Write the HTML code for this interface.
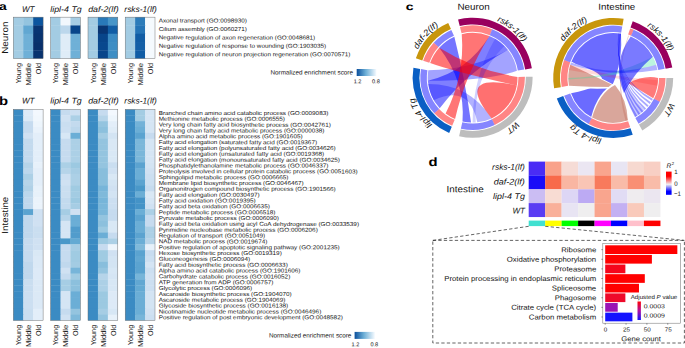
<!DOCTYPE html>
<html><head><meta charset="utf-8"><title>Figure</title>
<style>
html,body{margin:0;padding:0;background:#fff;}
body{width:685px;height:348px;overflow:hidden;}
svg{display:block;font-family:"Liberation Sans",sans-serif;text-rendering:geometricPrecision;}
</style></head><body>
<svg width="685" height="348" viewBox="0 0 685 348">
<defs>
<linearGradient id="gb" x1="0" x2="1" y1="0" y2="0"><stop offset="0" stop-color="#0b4f9c"/><stop offset="0.45" stop-color="#6baed6"/><stop offset="1" stop-color="#f7fbff"/></linearGradient>
<linearGradient id="gr" x1="0" x2="0" y1="0" y2="1"><stop offset="0" stop-color="#ff0000"/><stop offset="0.2" stop-color="#ff0000"/><stop offset="0.55" stop-color="#f2eef2"/><stop offset="0.86" stop-color="#0000ff"/><stop offset="1" stop-color="#0000ff"/></linearGradient>
<linearGradient id="gp" x1="0" x2="0" y1="0" y2="1"><stop offset="0" stop-color="#ff0000"/><stop offset="0.5" stop-color="#b010a0"/><stop offset="1" stop-color="#1414ff"/></linearGradient>
</defs>
<rect width="685" height="348" fill="#fff"/>
<rect x="13.30" y="17.15" width="10.28" height="8.64" fill="#a3cce3"/>
<rect x="23.23" y="17.15" width="10.28" height="8.64" fill="#94c4df"/>
<rect x="33.17" y="17.15" width="9.93" height="8.64" fill="#0b559f"/>
<rect x="13.30" y="25.44" width="10.28" height="8.64" fill="#a3cce3"/>
<rect x="23.23" y="25.44" width="10.28" height="8.64" fill="#61a7d2"/>
<rect x="33.17" y="25.44" width="9.93" height="8.64" fill="#083573"/>
<rect x="13.30" y="33.73" width="10.28" height="8.64" fill="#a3cce3"/>
<rect x="23.23" y="33.73" width="10.28" height="8.64" fill="#6fb0d7"/>
<rect x="33.17" y="33.73" width="9.93" height="8.64" fill="#08336f"/>
<rect x="13.30" y="42.02" width="10.28" height="8.64" fill="#a3cce3"/>
<rect x="23.23" y="42.02" width="10.28" height="8.64" fill="#6fb0d7"/>
<rect x="33.17" y="42.02" width="9.93" height="8.64" fill="#08306b"/>
<rect x="13.30" y="50.31" width="10.28" height="8.29" fill="#a3cce3"/>
<rect x="23.23" y="50.31" width="10.28" height="8.29" fill="#6fb0d7"/>
<rect x="33.17" y="50.31" width="9.93" height="8.29" fill="#08336f"/>
<rect x="13.30" y="17.15" width="29.80" height="41.45" fill="none" stroke="#666" stroke-width="0.45"/>
<rect x="50.60" y="17.15" width="10.28" height="8.64" fill="#a3cce3"/>
<rect x="60.53" y="17.15" width="10.28" height="8.64" fill="#f1f7fd"/>
<rect x="70.47" y="17.15" width="9.93" height="8.64" fill="#a6cde4"/>
<rect x="50.60" y="25.44" width="10.28" height="8.64" fill="#a3cce3"/>
<rect x="60.53" y="25.44" width="10.28" height="8.64" fill="#bcd7ec"/>
<rect x="70.47" y="25.44" width="9.93" height="8.64" fill="#08458a"/>
<rect x="50.60" y="33.73" width="10.28" height="8.64" fill="#a3cce3"/>
<rect x="60.53" y="33.73" width="10.28" height="8.64" fill="#dfecf7"/>
<rect x="70.47" y="33.73" width="9.93" height="8.64" fill="#6fb0d7"/>
<rect x="50.60" y="42.02" width="10.28" height="8.64" fill="#a3cce3"/>
<rect x="60.53" y="42.02" width="10.28" height="8.64" fill="#dfecf7"/>
<rect x="70.47" y="42.02" width="9.93" height="8.64" fill="#6fb0d7"/>
<rect x="50.60" y="50.31" width="10.28" height="8.29" fill="#a3cce3"/>
<rect x="60.53" y="50.31" width="10.28" height="8.29" fill="#dfecf7"/>
<rect x="70.47" y="50.31" width="9.93" height="8.29" fill="#6fb0d7"/>
<rect x="50.60" y="17.15" width="29.80" height="41.45" fill="none" stroke="#666" stroke-width="0.45"/>
<rect x="88.00" y="17.15" width="10.28" height="8.64" fill="#a3cce3"/>
<rect x="97.93" y="17.15" width="10.28" height="8.64" fill="#2979b9"/>
<rect x="107.87" y="17.15" width="9.93" height="8.64" fill="#4795c8"/>
<rect x="88.00" y="25.44" width="10.28" height="8.64" fill="#a3cce3"/>
<rect x="97.93" y="25.44" width="10.28" height="8.64" fill="#083573"/>
<rect x="107.87" y="25.44" width="9.93" height="8.64" fill="#115da5"/>
<rect x="88.00" y="33.73" width="10.28" height="8.64" fill="#a3cce3"/>
<rect x="97.93" y="33.73" width="10.28" height="8.64" fill="#08458a"/>
<rect x="107.87" y="33.73" width="9.93" height="8.64" fill="#3b8bc3"/>
<rect x="88.00" y="42.02" width="10.28" height="8.64" fill="#a3cce3"/>
<rect x="97.93" y="42.02" width="10.28" height="8.64" fill="#08488e"/>
<rect x="107.87" y="42.02" width="9.93" height="8.64" fill="#3e8ec4"/>
<rect x="88.00" y="50.31" width="10.28" height="8.29" fill="#a3cce3"/>
<rect x="97.93" y="50.31" width="10.28" height="8.29" fill="#08458a"/>
<rect x="107.87" y="50.31" width="9.93" height="8.29" fill="#3e8ec4"/>
<rect x="88.00" y="17.15" width="29.80" height="41.45" fill="none" stroke="#666" stroke-width="0.45"/>
<rect x="125.20" y="17.15" width="10.28" height="8.64" fill="#a3cce3"/>
<rect x="135.13" y="17.15" width="10.28" height="8.64" fill="#2c7cba"/>
<rect x="145.07" y="17.15" width="9.93" height="8.64" fill="#f5fafe"/>
<rect x="125.20" y="25.44" width="10.28" height="8.64" fill="#a3cce3"/>
<rect x="135.13" y="25.44" width="10.28" height="8.64" fill="#2474b6"/>
<rect x="145.07" y="25.44" width="9.93" height="8.64" fill="#f5fafe"/>
<rect x="125.20" y="33.73" width="10.28" height="8.64" fill="#a3cce3"/>
<rect x="135.13" y="33.73" width="10.28" height="8.64" fill="#115da5"/>
<rect x="145.07" y="33.73" width="9.93" height="8.64" fill="#f5fafe"/>
<rect x="125.20" y="42.02" width="10.28" height="8.64" fill="#a3cce3"/>
<rect x="135.13" y="42.02" width="10.28" height="8.64" fill="#135fa7"/>
<rect x="145.07" y="42.02" width="9.93" height="8.64" fill="#f5fafe"/>
<rect x="125.20" y="50.31" width="10.28" height="8.29" fill="#a3cce3"/>
<rect x="135.13" y="50.31" width="10.28" height="8.29" fill="#115da5"/>
<rect x="145.07" y="50.31" width="9.93" height="8.29" fill="#f5fafe"/>
<rect x="125.20" y="17.15" width="29.80" height="41.45" fill="none" stroke="#666" stroke-width="0.45"/>
<text font-size="8.2" text-anchor="middle" font-style="italic" textLength="12.5" lengthAdjust="spacingAndGlyphs" transform="translate(28.200000000000003 12) rotate(0.03)" fill="#111" >WT</text>
<text font-size="8.2" text-anchor="middle" font-style="italic" textLength="31.5" lengthAdjust="spacingAndGlyphs" transform="translate(66.0 12) rotate(0.03)" fill="#111" >lipl-4 Tg</text>
<text font-size="8.2" text-anchor="middle" font-style="italic" textLength="30.5" lengthAdjust="spacingAndGlyphs" transform="translate(103.4 12) rotate(0.03)" fill="#111" >daf-2(lf)</text>
<text font-size="8.2" text-anchor="middle" font-style="italic" textLength="32.5" lengthAdjust="spacingAndGlyphs" transform="translate(140.6 12) rotate(0.03)" fill="#111" >rsks-1(lf)</text>
<text font-size="10.9" font-weight="bold" textLength="7.76" lengthAdjust="spacingAndGlyphs" transform="translate(-0.9 10.1) rotate(0.03)" fill="#000" >a</text>
<text font-size="8.9" text-anchor="middle" textLength="32.3" lengthAdjust="spacingAndGlyphs" transform="translate(7.8 37.7) rotate(-90)" fill="#111" >Neuron</text>
<text font-size="7.2" textLength="20.6" lengthAdjust="spacingAndGlyphs" transform="translate(21.12 83.6) rotate(-90)" fill="#111" >Young</text>
<text font-size="7.2" textLength="22.4" lengthAdjust="spacingAndGlyphs" transform="translate(31.05 85.4) rotate(-90)" fill="#111" >Middle</text>
<text font-size="7.2" textLength="11.2" lengthAdjust="spacingAndGlyphs" transform="translate(40.98 74.2) rotate(-90)" fill="#111" >Old</text>
<text font-size="7.2" textLength="20.6" lengthAdjust="spacingAndGlyphs" transform="translate(58.42 83.6) rotate(-90)" fill="#111" >Young</text>
<text font-size="7.2" textLength="22.4" lengthAdjust="spacingAndGlyphs" transform="translate(68.35 85.4) rotate(-90)" fill="#111" >Middle</text>
<text font-size="7.2" textLength="11.2" lengthAdjust="spacingAndGlyphs" transform="translate(78.28 74.2) rotate(-90)" fill="#111" >Old</text>
<text font-size="7.2" textLength="20.6" lengthAdjust="spacingAndGlyphs" transform="translate(95.82 83.6) rotate(-90)" fill="#111" >Young</text>
<text font-size="7.2" textLength="22.4" lengthAdjust="spacingAndGlyphs" transform="translate(105.75 85.4) rotate(-90)" fill="#111" >Middle</text>
<text font-size="7.2" textLength="11.2" lengthAdjust="spacingAndGlyphs" transform="translate(115.68 74.2) rotate(-90)" fill="#111" >Old</text>
<text font-size="7.2" textLength="20.6" lengthAdjust="spacingAndGlyphs" transform="translate(133.02 83.6) rotate(-90)" fill="#111" >Young</text>
<text font-size="7.2" textLength="22.4" lengthAdjust="spacingAndGlyphs" transform="translate(142.95 85.4) rotate(-90)" fill="#111" >Middle</text>
<text font-size="7.2" textLength="11.2" lengthAdjust="spacingAndGlyphs" transform="translate(152.88 74.2) rotate(-90)" fill="#111" >Old</text>
<text font-size="5.7" textLength="88.28" lengthAdjust="spacingAndGlyphs" transform="translate(158.7 22.5) rotate(0.03)" fill="#111" >Axonal transport (GO:0098930)</text>
<text font-size="5.7" textLength="88.26" lengthAdjust="spacingAndGlyphs" transform="translate(158.7 30.93) rotate(0.03)" fill="#111" >Cilium assembly (GO:0060271)</text>
<text font-size="5.7" textLength="156.52" lengthAdjust="spacingAndGlyphs" transform="translate(158.7 39.36) rotate(0.03)" fill="#111" >Negative regulation of axon regeneration (GO:0048681)</text>
<text font-size="5.7" textLength="167.43" lengthAdjust="spacingAndGlyphs" transform="translate(158.7 47.79) rotate(0.03)" fill="#111" >Negative regulation of response to wounding (GO:1903035)</text>
<text font-size="5.7" textLength="191.7" lengthAdjust="spacingAndGlyphs" transform="translate(158.7 56.22) rotate(0.03)" fill="#111" >Negative regulation of neuron projection regeneration (GO:0070571)</text>
<text font-size="6.35" text-anchor="end" transform="translate(353 74.6) rotate(0.03)" fill="#111" >Normalized enrichment score</text>
<rect x="356.7" y="69.0" width="19.80000000000001" height="7" fill="url(#gb)"/>
<text font-size="5.6" transform="translate(353.7 83.3) rotate(0.03)" fill="#111" >1.2</text>
<text font-size="5.6" transform="translate(372.0 83.3) rotate(0.03)" fill="#111" >0.8</text>
<rect x="13.30" y="109.40" width="10.28" height="6.21" fill="#3b8bc3"/>
<rect x="23.23" y="109.40" width="10.28" height="6.21" fill="#ddeaf7"/>
<rect x="33.17" y="109.40" width="9.93" height="6.21" fill="#f3f8fe"/>
<rect x="13.30" y="115.26" width="10.28" height="6.21" fill="#3b8bc3"/>
<rect x="23.23" y="115.26" width="10.28" height="6.21" fill="#dbe9f6"/>
<rect x="33.17" y="115.26" width="9.93" height="6.21" fill="#f1f7fd"/>
<rect x="13.30" y="121.13" width="10.28" height="6.21" fill="#3b8bc3"/>
<rect x="23.23" y="121.13" width="10.28" height="6.21" fill="#c6dbef"/>
<rect x="33.17" y="121.13" width="9.93" height="6.21" fill="#edf5fc"/>
<rect x="13.30" y="126.99" width="10.28" height="6.21" fill="#3b8bc3"/>
<rect x="23.23" y="126.99" width="10.28" height="6.21" fill="#c6dbef"/>
<rect x="33.17" y="126.99" width="9.93" height="6.21" fill="#e9f2fb"/>
<rect x="13.30" y="132.86" width="10.28" height="6.21" fill="#3b8bc3"/>
<rect x="23.23" y="132.86" width="10.28" height="6.21" fill="#d0e1f2"/>
<rect x="33.17" y="132.86" width="9.93" height="6.21" fill="#e3eef9"/>
<rect x="13.30" y="138.72" width="10.28" height="6.21" fill="#3b8bc3"/>
<rect x="23.23" y="138.72" width="10.28" height="6.21" fill="#c3daee"/>
<rect x="33.17" y="138.72" width="9.93" height="6.21" fill="#e3eef9"/>
<rect x="13.30" y="144.58" width="10.28" height="6.21" fill="#3b8bc3"/>
<rect x="23.23" y="144.58" width="10.28" height="6.21" fill="#c3daee"/>
<rect x="33.17" y="144.58" width="9.93" height="6.21" fill="#e3eef9"/>
<rect x="13.30" y="150.45" width="10.28" height="6.21" fill="#3b8bc3"/>
<rect x="23.23" y="150.45" width="10.28" height="6.21" fill="#c3daee"/>
<rect x="33.17" y="150.45" width="9.93" height="6.21" fill="#e3eef9"/>
<rect x="13.30" y="156.31" width="10.28" height="6.21" fill="#3b8bc3"/>
<rect x="23.23" y="156.31" width="10.28" height="6.21" fill="#c3daee"/>
<rect x="33.17" y="156.31" width="9.93" height="6.21" fill="#e3eef9"/>
<rect x="13.30" y="162.18" width="10.28" height="6.21" fill="#3b8bc3"/>
<rect x="23.23" y="162.18" width="10.28" height="6.21" fill="#b6d4e9"/>
<rect x="33.17" y="162.18" width="9.93" height="6.21" fill="#e7f1fa"/>
<rect x="13.30" y="168.04" width="10.28" height="6.21" fill="#3b8bc3"/>
<rect x="23.23" y="168.04" width="10.28" height="6.21" fill="#bcd7ec"/>
<rect x="33.17" y="168.04" width="9.93" height="6.21" fill="#e3eef9"/>
<rect x="13.30" y="173.90" width="10.28" height="6.21" fill="#3b8bc3"/>
<rect x="23.23" y="173.90" width="10.28" height="6.21" fill="#acd0e6"/>
<rect x="33.17" y="173.90" width="9.93" height="6.21" fill="#e3eef9"/>
<rect x="13.30" y="179.77" width="10.28" height="6.21" fill="#3b8bc3"/>
<rect x="23.23" y="179.77" width="10.28" height="6.21" fill="#b6d4e9"/>
<rect x="33.17" y="179.77" width="9.93" height="6.21" fill="#e3eef9"/>
<rect x="13.30" y="185.63" width="10.28" height="6.21" fill="#3b8bc3"/>
<rect x="23.23" y="185.63" width="10.28" height="6.21" fill="#b0d1e7"/>
<rect x="33.17" y="185.63" width="9.93" height="6.21" fill="#e7f1fa"/>
<rect x="13.30" y="191.49" width="10.28" height="6.21" fill="#3b8bc3"/>
<rect x="23.23" y="191.49" width="10.28" height="6.21" fill="#bcd7ec"/>
<rect x="33.17" y="191.49" width="9.93" height="6.21" fill="#e7f1fa"/>
<rect x="13.30" y="197.36" width="10.28" height="6.21" fill="#3b8bc3"/>
<rect x="23.23" y="197.36" width="10.28" height="6.21" fill="#c0d8ed"/>
<rect x="33.17" y="197.36" width="9.93" height="6.21" fill="#ebf3fb"/>
<rect x="13.30" y="203.22" width="10.28" height="6.21" fill="#3b8bc3"/>
<rect x="23.23" y="203.22" width="10.28" height="6.21" fill="#c0d8ed"/>
<rect x="33.17" y="203.22" width="9.93" height="6.21" fill="#ebf3fb"/>
<rect x="13.30" y="209.09" width="10.28" height="6.21" fill="#3b8bc3"/>
<rect x="23.23" y="209.09" width="10.28" height="6.21" fill="#5ba3d0"/>
<rect x="33.17" y="209.09" width="9.93" height="6.21" fill="#d0e1f2"/>
<rect x="13.30" y="214.95" width="10.28" height="6.21" fill="#3b8bc3"/>
<rect x="23.23" y="214.95" width="10.28" height="6.21" fill="#c0d8ed"/>
<rect x="33.17" y="214.95" width="9.93" height="6.21" fill="#d0e1f2"/>
<rect x="13.30" y="220.81" width="10.28" height="6.21" fill="#3b8bc3"/>
<rect x="23.23" y="220.81" width="10.28" height="6.21" fill="#c0d8ed"/>
<rect x="33.17" y="220.81" width="9.93" height="6.21" fill="#d0e1f2"/>
<rect x="13.30" y="226.68" width="10.28" height="6.21" fill="#3b8bc3"/>
<rect x="23.23" y="226.68" width="10.28" height="6.21" fill="#c0d8ed"/>
<rect x="33.17" y="226.68" width="9.93" height="6.21" fill="#cadef0"/>
<rect x="13.30" y="232.54" width="10.28" height="6.21" fill="#3b8bc3"/>
<rect x="23.23" y="232.54" width="10.28" height="6.21" fill="#c0d8ed"/>
<rect x="33.17" y="232.54" width="9.93" height="6.21" fill="#cadef0"/>
<rect x="13.30" y="238.41" width="10.28" height="6.21" fill="#3b8bc3"/>
<rect x="23.23" y="238.41" width="10.28" height="6.21" fill="#c6dbef"/>
<rect x="33.17" y="238.41" width="9.93" height="6.21" fill="#d0e1f2"/>
<rect x="13.30" y="244.27" width="10.28" height="6.21" fill="#3b8bc3"/>
<rect x="23.23" y="244.27" width="10.28" height="6.21" fill="#c6dbef"/>
<rect x="33.17" y="244.27" width="9.93" height="6.21" fill="#d0e1f2"/>
<rect x="13.30" y="250.13" width="10.28" height="6.21" fill="#3b8bc3"/>
<rect x="23.23" y="250.13" width="10.28" height="6.21" fill="#c6dbef"/>
<rect x="33.17" y="250.13" width="9.93" height="6.21" fill="#d9e8f5"/>
<rect x="13.30" y="256.00" width="10.28" height="6.21" fill="#3b8bc3"/>
<rect x="23.23" y="256.00" width="10.28" height="6.21" fill="#c6dbef"/>
<rect x="33.17" y="256.00" width="9.93" height="6.21" fill="#dbe9f6"/>
<rect x="13.30" y="261.86" width="10.28" height="6.21" fill="#3b8bc3"/>
<rect x="23.23" y="261.86" width="10.28" height="6.21" fill="#c0d8ed"/>
<rect x="33.17" y="261.86" width="9.93" height="6.21" fill="#dbe9f6"/>
<rect x="13.30" y="267.73" width="10.28" height="6.21" fill="#3b8bc3"/>
<rect x="23.23" y="267.73" width="10.28" height="6.21" fill="#c0d8ed"/>
<rect x="33.17" y="267.73" width="9.93" height="6.21" fill="#ddeaf7"/>
<rect x="13.30" y="273.59" width="10.28" height="6.21" fill="#3b8bc3"/>
<rect x="23.23" y="273.59" width="10.28" height="6.21" fill="#c0d8ed"/>
<rect x="33.17" y="273.59" width="9.93" height="6.21" fill="#ddeaf7"/>
<rect x="13.30" y="279.45" width="10.28" height="6.21" fill="#3b8bc3"/>
<rect x="23.23" y="279.45" width="10.28" height="6.21" fill="#cadef0"/>
<rect x="33.17" y="279.45" width="9.93" height="6.21" fill="#dbe9f6"/>
<rect x="13.30" y="285.32" width="10.28" height="6.21" fill="#3b8bc3"/>
<rect x="23.23" y="285.32" width="10.28" height="6.21" fill="#cadef0"/>
<rect x="33.17" y="285.32" width="9.93" height="6.21" fill="#dbe9f6"/>
<rect x="13.30" y="291.18" width="10.28" height="6.21" fill="#3b8bc3"/>
<rect x="23.23" y="291.18" width="10.28" height="6.21" fill="#ccdff1"/>
<rect x="33.17" y="291.18" width="9.93" height="6.21" fill="#dbe9f6"/>
<rect x="13.30" y="297.04" width="10.28" height="6.21" fill="#3b8bc3"/>
<rect x="23.23" y="297.04" width="10.28" height="6.21" fill="#ccdff1"/>
<rect x="33.17" y="297.04" width="9.93" height="6.21" fill="#dbe9f6"/>
<rect x="13.30" y="302.91" width="10.28" height="6.21" fill="#3b8bc3"/>
<rect x="23.23" y="302.91" width="10.28" height="6.21" fill="#ccdff1"/>
<rect x="33.17" y="302.91" width="9.93" height="6.21" fill="#dbe9f6"/>
<rect x="13.30" y="308.77" width="10.28" height="6.21" fill="#3b8bc3"/>
<rect x="23.23" y="308.77" width="10.28" height="6.21" fill="#cadef0"/>
<rect x="33.17" y="308.77" width="9.93" height="6.21" fill="#e3eef9"/>
<rect x="13.30" y="314.64" width="10.28" height="5.86" fill="#3b8bc3"/>
<rect x="23.23" y="314.64" width="10.28" height="5.86" fill="#cadef0"/>
<rect x="33.17" y="314.64" width="9.93" height="5.86" fill="#e3eef9"/>
<rect x="13.30" y="109.40" width="29.80" height="211.10" fill="none" stroke="#666" stroke-width="0.45"/>
<rect x="50.60" y="109.40" width="10.28" height="6.21" fill="#3b8bc3"/>
<rect x="60.53" y="109.40" width="10.28" height="6.21" fill="#c6dbef"/>
<rect x="70.47" y="109.40" width="9.93" height="6.21" fill="#ccdff1"/>
<rect x="50.60" y="115.26" width="10.28" height="6.21" fill="#3b8bc3"/>
<rect x="60.53" y="115.26" width="10.28" height="6.21" fill="#d0e1f2"/>
<rect x="70.47" y="115.26" width="9.93" height="6.21" fill="#acd0e6"/>
<rect x="50.60" y="121.13" width="10.28" height="6.21" fill="#3b8bc3"/>
<rect x="60.53" y="121.13" width="10.28" height="6.21" fill="#cadef0"/>
<rect x="70.47" y="121.13" width="9.93" height="6.21" fill="#c3daee"/>
<rect x="50.60" y="126.99" width="10.28" height="6.21" fill="#3b8bc3"/>
<rect x="60.53" y="126.99" width="10.28" height="6.21" fill="#ccdff1"/>
<rect x="70.47" y="126.99" width="9.93" height="6.21" fill="#bcd7ec"/>
<rect x="50.60" y="132.86" width="10.28" height="6.21" fill="#3b8bc3"/>
<rect x="60.53" y="132.86" width="10.28" height="6.21" fill="#d7e7f5"/>
<rect x="70.47" y="132.86" width="9.93" height="6.21" fill="#6baed6"/>
<rect x="50.60" y="138.72" width="10.28" height="6.21" fill="#3b8bc3"/>
<rect x="60.53" y="138.72" width="10.28" height="6.21" fill="#c6dbef"/>
<rect x="70.47" y="138.72" width="9.93" height="6.21" fill="#acd0e6"/>
<rect x="50.60" y="144.58" width="10.28" height="6.21" fill="#3b8bc3"/>
<rect x="60.53" y="144.58" width="10.28" height="6.21" fill="#c6dbef"/>
<rect x="70.47" y="144.58" width="9.93" height="6.21" fill="#acd0e6"/>
<rect x="50.60" y="150.45" width="10.28" height="6.21" fill="#3b8bc3"/>
<rect x="60.53" y="150.45" width="10.28" height="6.21" fill="#c6dbef"/>
<rect x="70.47" y="150.45" width="9.93" height="6.21" fill="#acd0e6"/>
<rect x="50.60" y="156.31" width="10.28" height="6.21" fill="#3b8bc3"/>
<rect x="60.53" y="156.31" width="10.28" height="6.21" fill="#c6dbef"/>
<rect x="70.47" y="156.31" width="9.93" height="6.21" fill="#acd0e6"/>
<rect x="50.60" y="162.18" width="10.28" height="6.21" fill="#3b8bc3"/>
<rect x="60.53" y="162.18" width="10.28" height="6.21" fill="#acd0e6"/>
<rect x="70.47" y="162.18" width="9.93" height="6.21" fill="#9cc9e1"/>
<rect x="50.60" y="168.04" width="10.28" height="6.21" fill="#3b8bc3"/>
<rect x="60.53" y="168.04" width="10.28" height="6.21" fill="#b6d4e9"/>
<rect x="70.47" y="168.04" width="9.93" height="6.21" fill="#a6cde4"/>
<rect x="50.60" y="173.90" width="10.28" height="6.21" fill="#3b8bc3"/>
<rect x="60.53" y="173.90" width="10.28" height="6.21" fill="#ccdff1"/>
<rect x="70.47" y="173.90" width="9.93" height="6.21" fill="#acd0e6"/>
<rect x="50.60" y="179.77" width="10.28" height="6.21" fill="#3b8bc3"/>
<rect x="60.53" y="179.77" width="10.28" height="6.21" fill="#d0e1f2"/>
<rect x="70.47" y="179.77" width="9.93" height="6.21" fill="#acd0e6"/>
<rect x="50.60" y="185.63" width="10.28" height="6.21" fill="#3b8bc3"/>
<rect x="60.53" y="185.63" width="10.28" height="6.21" fill="#cadef0"/>
<rect x="70.47" y="185.63" width="9.93" height="6.21" fill="#a0cbe2"/>
<rect x="50.60" y="191.49" width="10.28" height="6.21" fill="#3b8bc3"/>
<rect x="60.53" y="191.49" width="10.28" height="6.21" fill="#cadef0"/>
<rect x="70.47" y="191.49" width="9.93" height="6.21" fill="#a3cce3"/>
<rect x="50.60" y="197.36" width="10.28" height="6.21" fill="#3b8bc3"/>
<rect x="60.53" y="197.36" width="10.28" height="6.21" fill="#c3daee"/>
<rect x="70.47" y="197.36" width="9.93" height="6.21" fill="#9cc9e1"/>
<rect x="50.60" y="203.22" width="10.28" height="6.21" fill="#3b8bc3"/>
<rect x="60.53" y="203.22" width="10.28" height="6.21" fill="#c3daee"/>
<rect x="70.47" y="203.22" width="9.93" height="6.21" fill="#a6cde4"/>
<rect x="50.60" y="209.09" width="10.28" height="6.21" fill="#3b8bc3"/>
<rect x="60.53" y="209.09" width="10.28" height="6.21" fill="#a6cde4"/>
<rect x="70.47" y="209.09" width="9.93" height="6.21" fill="#d0e1f2"/>
<rect x="50.60" y="214.95" width="10.28" height="6.21" fill="#3b8bc3"/>
<rect x="60.53" y="214.95" width="10.28" height="6.21" fill="#b6d4e9"/>
<rect x="70.47" y="214.95" width="9.93" height="6.21" fill="#6baed6"/>
<rect x="50.60" y="220.81" width="10.28" height="6.21" fill="#3b8bc3"/>
<rect x="60.53" y="220.81" width="10.28" height="6.21" fill="#d5e5f4"/>
<rect x="70.47" y="220.81" width="9.93" height="6.21" fill="#6baed6"/>
<rect x="50.60" y="226.68" width="10.28" height="6.21" fill="#3b8bc3"/>
<rect x="60.53" y="226.68" width="10.28" height="6.21" fill="#d5e5f4"/>
<rect x="70.47" y="226.68" width="9.93" height="6.21" fill="#519ccc"/>
<rect x="50.60" y="232.54" width="10.28" height="6.21" fill="#3b8bc3"/>
<rect x="60.53" y="232.54" width="10.28" height="6.21" fill="#d5e5f4"/>
<rect x="70.47" y="232.54" width="9.93" height="6.21" fill="#519ccc"/>
<rect x="50.60" y="238.41" width="10.28" height="6.21" fill="#3b8bc3"/>
<rect x="60.53" y="238.41" width="10.28" height="6.21" fill="#4a98c9"/>
<rect x="70.47" y="238.41" width="9.93" height="6.21" fill="#64aad3"/>
<rect x="50.60" y="244.27" width="10.28" height="6.21" fill="#3b8bc3"/>
<rect x="60.53" y="244.27" width="10.28" height="6.21" fill="#c6dbef"/>
<rect x="70.47" y="244.27" width="9.93" height="6.21" fill="#a6cde4"/>
<rect x="50.60" y="250.13" width="10.28" height="6.21" fill="#3b8bc3"/>
<rect x="60.53" y="250.13" width="10.28" height="6.21" fill="#c6dbef"/>
<rect x="70.47" y="250.13" width="9.93" height="6.21" fill="#a0cbe2"/>
<rect x="50.60" y="256.00" width="10.28" height="6.21" fill="#3b8bc3"/>
<rect x="60.53" y="256.00" width="10.28" height="6.21" fill="#c6dbef"/>
<rect x="70.47" y="256.00" width="9.93" height="6.21" fill="#a0cbe2"/>
<rect x="50.60" y="261.86" width="10.28" height="6.21" fill="#3b8bc3"/>
<rect x="60.53" y="261.86" width="10.28" height="6.21" fill="#c0d8ed"/>
<rect x="70.47" y="261.86" width="9.93" height="6.21" fill="#a3cce3"/>
<rect x="50.60" y="267.73" width="10.28" height="6.21" fill="#3b8bc3"/>
<rect x="60.53" y="267.73" width="10.28" height="6.21" fill="#d0e1f2"/>
<rect x="70.47" y="267.73" width="9.93" height="6.21" fill="#77b5d9"/>
<rect x="50.60" y="273.59" width="10.28" height="6.21" fill="#3b8bc3"/>
<rect x="60.53" y="273.59" width="10.28" height="6.21" fill="#c6dbef"/>
<rect x="70.47" y="273.59" width="9.93" height="6.21" fill="#a0cbe2"/>
<rect x="50.60" y="279.45" width="10.28" height="6.21" fill="#3b8bc3"/>
<rect x="60.53" y="279.45" width="10.28" height="6.21" fill="#a6cde4"/>
<rect x="70.47" y="279.45" width="9.93" height="6.21" fill="#8cc0dd"/>
<rect x="50.60" y="285.32" width="10.28" height="6.21" fill="#3b8bc3"/>
<rect x="60.53" y="285.32" width="10.28" height="6.21" fill="#a6cde4"/>
<rect x="70.47" y="285.32" width="9.93" height="6.21" fill="#8cc0dd"/>
<rect x="50.60" y="291.18" width="10.28" height="6.21" fill="#3b8bc3"/>
<rect x="60.53" y="291.18" width="10.28" height="6.21" fill="#d5e5f4"/>
<rect x="70.47" y="291.18" width="9.93" height="6.21" fill="#6baed6"/>
<rect x="50.60" y="297.04" width="10.28" height="6.21" fill="#3b8bc3"/>
<rect x="60.53" y="297.04" width="10.28" height="6.21" fill="#d5e5f4"/>
<rect x="70.47" y="297.04" width="9.93" height="6.21" fill="#6baed6"/>
<rect x="50.60" y="302.91" width="10.28" height="6.21" fill="#3b8bc3"/>
<rect x="60.53" y="302.91" width="10.28" height="6.21" fill="#d5e5f4"/>
<rect x="70.47" y="302.91" width="9.93" height="6.21" fill="#6baed6"/>
<rect x="50.60" y="308.77" width="10.28" height="6.21" fill="#3b8bc3"/>
<rect x="60.53" y="308.77" width="10.28" height="6.21" fill="#c6dbef"/>
<rect x="70.47" y="308.77" width="9.93" height="6.21" fill="#94c4df"/>
<rect x="50.60" y="314.64" width="10.28" height="5.86" fill="#3b8bc3"/>
<rect x="60.53" y="314.64" width="10.28" height="5.86" fill="#d0e1f2"/>
<rect x="70.47" y="314.64" width="9.93" height="5.86" fill="#7fb9da"/>
<rect x="50.60" y="109.40" width="29.80" height="211.10" fill="none" stroke="#666" stroke-width="0.45"/>
<rect x="88.00" y="109.40" width="10.28" height="6.21" fill="#3b8bc3"/>
<rect x="97.93" y="109.40" width="10.28" height="6.21" fill="#c6dbef"/>
<rect x="107.87" y="109.40" width="9.93" height="6.21" fill="#f3f8fe"/>
<rect x="88.00" y="115.26" width="10.28" height="6.21" fill="#3b8bc3"/>
<rect x="97.93" y="115.26" width="10.28" height="6.21" fill="#b6d4e9"/>
<rect x="107.87" y="115.26" width="9.93" height="6.21" fill="#edf5fc"/>
<rect x="88.00" y="121.13" width="10.28" height="6.21" fill="#3b8bc3"/>
<rect x="97.93" y="121.13" width="10.28" height="6.21" fill="#94c4df"/>
<rect x="107.87" y="121.13" width="9.93" height="6.21" fill="#e3eef9"/>
<rect x="88.00" y="126.99" width="10.28" height="6.21" fill="#3b8bc3"/>
<rect x="97.93" y="126.99" width="10.28" height="6.21" fill="#8cc0dd"/>
<rect x="107.87" y="126.99" width="9.93" height="6.21" fill="#dfecf7"/>
<rect x="88.00" y="132.86" width="10.28" height="6.21" fill="#3b8bc3"/>
<rect x="97.93" y="132.86" width="10.28" height="6.21" fill="#a3cce3"/>
<rect x="107.87" y="132.86" width="9.93" height="6.21" fill="#d3e4f3"/>
<rect x="88.00" y="138.72" width="10.28" height="6.21" fill="#3b8bc3"/>
<rect x="97.93" y="138.72" width="10.28" height="6.21" fill="#94c4df"/>
<rect x="107.87" y="138.72" width="9.93" height="6.21" fill="#d9e8f5"/>
<rect x="88.00" y="144.58" width="10.28" height="6.21" fill="#3b8bc3"/>
<rect x="97.93" y="144.58" width="10.28" height="6.21" fill="#94c4df"/>
<rect x="107.87" y="144.58" width="9.93" height="6.21" fill="#d9e8f5"/>
<rect x="88.00" y="150.45" width="10.28" height="6.21" fill="#3b8bc3"/>
<rect x="97.93" y="150.45" width="10.28" height="6.21" fill="#94c4df"/>
<rect x="107.87" y="150.45" width="9.93" height="6.21" fill="#d9e8f5"/>
<rect x="88.00" y="156.31" width="10.28" height="6.21" fill="#3b8bc3"/>
<rect x="97.93" y="156.31" width="10.28" height="6.21" fill="#94c4df"/>
<rect x="107.87" y="156.31" width="9.93" height="6.21" fill="#d9e8f5"/>
<rect x="88.00" y="162.18" width="10.28" height="6.21" fill="#3b8bc3"/>
<rect x="97.93" y="162.18" width="10.28" height="6.21" fill="#94c4df"/>
<rect x="107.87" y="162.18" width="9.93" height="6.21" fill="#cadef0"/>
<rect x="88.00" y="168.04" width="10.28" height="6.21" fill="#3b8bc3"/>
<rect x="97.93" y="168.04" width="10.28" height="6.21" fill="#88bedc"/>
<rect x="107.87" y="168.04" width="9.93" height="6.21" fill="#d0e1f2"/>
<rect x="88.00" y="173.90" width="10.28" height="6.21" fill="#3b8bc3"/>
<rect x="97.93" y="173.90" width="10.28" height="6.21" fill="#88bedc"/>
<rect x="107.87" y="173.90" width="9.93" height="6.21" fill="#d9e8f5"/>
<rect x="88.00" y="179.77" width="10.28" height="6.21" fill="#3b8bc3"/>
<rect x="97.93" y="179.77" width="10.28" height="6.21" fill="#88bedc"/>
<rect x="107.87" y="179.77" width="9.93" height="6.21" fill="#d3e4f3"/>
<rect x="88.00" y="185.63" width="10.28" height="6.21" fill="#3b8bc3"/>
<rect x="97.93" y="185.63" width="10.28" height="6.21" fill="#77b5d9"/>
<rect x="107.87" y="185.63" width="9.93" height="6.21" fill="#d0e1f2"/>
<rect x="88.00" y="191.49" width="10.28" height="6.21" fill="#3b8bc3"/>
<rect x="97.93" y="191.49" width="10.28" height="6.21" fill="#7fb9da"/>
<rect x="107.87" y="191.49" width="9.93" height="6.21" fill="#d3e4f3"/>
<rect x="88.00" y="197.36" width="10.28" height="6.21" fill="#3b8bc3"/>
<rect x="97.93" y="197.36" width="10.28" height="6.21" fill="#77b5d9"/>
<rect x="107.87" y="197.36" width="9.93" height="6.21" fill="#ccdff1"/>
<rect x="88.00" y="203.22" width="10.28" height="6.21" fill="#3b8bc3"/>
<rect x="97.93" y="203.22" width="10.28" height="6.21" fill="#7bb7da"/>
<rect x="107.87" y="203.22" width="9.93" height="6.21" fill="#ccdff1"/>
<rect x="88.00" y="209.09" width="10.28" height="6.21" fill="#3b8bc3"/>
<rect x="97.93" y="209.09" width="10.28" height="6.21" fill="#7bb7da"/>
<rect x="107.87" y="209.09" width="9.93" height="6.21" fill="#c6dbef"/>
<rect x="88.00" y="214.95" width="10.28" height="6.21" fill="#3b8bc3"/>
<rect x="97.93" y="214.95" width="10.28" height="6.21" fill="#94c4df"/>
<rect x="107.87" y="214.95" width="9.93" height="6.21" fill="#c6dbef"/>
<rect x="88.00" y="220.81" width="10.28" height="6.21" fill="#3b8bc3"/>
<rect x="97.93" y="220.81" width="10.28" height="6.21" fill="#8cc0dd"/>
<rect x="107.87" y="220.81" width="9.93" height="6.21" fill="#d9e8f5"/>
<rect x="88.00" y="226.68" width="10.28" height="6.21" fill="#3b8bc3"/>
<rect x="97.93" y="226.68" width="10.28" height="6.21" fill="#9cc9e1"/>
<rect x="107.87" y="226.68" width="9.93" height="6.21" fill="#d9e8f5"/>
<rect x="88.00" y="232.54" width="10.28" height="6.21" fill="#3b8bc3"/>
<rect x="97.93" y="232.54" width="10.28" height="6.21" fill="#6baed6"/>
<rect x="107.87" y="232.54" width="9.93" height="6.21" fill="#c6dbef"/>
<rect x="88.00" y="238.41" width="10.28" height="6.21" fill="#3b8bc3"/>
<rect x="97.93" y="238.41" width="10.28" height="6.21" fill="#9cc9e1"/>
<rect x="107.87" y="238.41" width="9.93" height="6.21" fill="#acd0e6"/>
<rect x="88.00" y="244.27" width="10.28" height="6.21" fill="#3b8bc3"/>
<rect x="97.93" y="244.27" width="10.28" height="6.21" fill="#c6dbef"/>
<rect x="107.87" y="244.27" width="9.93" height="6.21" fill="#edf5fc"/>
<rect x="88.00" y="250.13" width="10.28" height="6.21" fill="#3b8bc3"/>
<rect x="97.93" y="250.13" width="10.28" height="6.21" fill="#a0cbe2"/>
<rect x="107.87" y="250.13" width="9.93" height="6.21" fill="#d0e1f2"/>
<rect x="88.00" y="256.00" width="10.28" height="6.21" fill="#3b8bc3"/>
<rect x="97.93" y="256.00" width="10.28" height="6.21" fill="#a0cbe2"/>
<rect x="107.87" y="256.00" width="9.93" height="6.21" fill="#d3e4f3"/>
<rect x="88.00" y="261.86" width="10.28" height="6.21" fill="#3b8bc3"/>
<rect x="97.93" y="261.86" width="10.28" height="6.21" fill="#88bedc"/>
<rect x="107.87" y="261.86" width="9.93" height="6.21" fill="#d3e4f3"/>
<rect x="88.00" y="267.73" width="10.28" height="6.21" fill="#3b8bc3"/>
<rect x="97.93" y="267.73" width="10.28" height="6.21" fill="#94c4df"/>
<rect x="107.87" y="267.73" width="9.93" height="6.21" fill="#d7e7f5"/>
<rect x="88.00" y="273.59" width="10.28" height="6.21" fill="#3b8bc3"/>
<rect x="97.93" y="273.59" width="10.28" height="6.21" fill="#b6d4e9"/>
<rect x="107.87" y="273.59" width="9.93" height="6.21" fill="#d5e5f4"/>
<rect x="88.00" y="279.45" width="10.28" height="6.21" fill="#3b8bc3"/>
<rect x="97.93" y="279.45" width="10.28" height="6.21" fill="#acd0e6"/>
<rect x="107.87" y="279.45" width="9.93" height="6.21" fill="#d7e7f5"/>
<rect x="88.00" y="285.32" width="10.28" height="6.21" fill="#3b8bc3"/>
<rect x="97.93" y="285.32" width="10.28" height="6.21" fill="#acd0e6"/>
<rect x="107.87" y="285.32" width="9.93" height="6.21" fill="#d7e7f5"/>
<rect x="88.00" y="291.18" width="10.28" height="6.21" fill="#3b8bc3"/>
<rect x="97.93" y="291.18" width="10.28" height="6.21" fill="#9cc9e1"/>
<rect x="107.87" y="291.18" width="9.93" height="6.21" fill="#ddeaf7"/>
<rect x="88.00" y="297.04" width="10.28" height="6.21" fill="#3b8bc3"/>
<rect x="97.93" y="297.04" width="10.28" height="6.21" fill="#9cc9e1"/>
<rect x="107.87" y="297.04" width="9.93" height="6.21" fill="#ddeaf7"/>
<rect x="88.00" y="302.91" width="10.28" height="6.21" fill="#3b8bc3"/>
<rect x="97.93" y="302.91" width="10.28" height="6.21" fill="#9cc9e1"/>
<rect x="107.87" y="302.91" width="9.93" height="6.21" fill="#ddeaf7"/>
<rect x="88.00" y="308.77" width="10.28" height="6.21" fill="#3b8bc3"/>
<rect x="97.93" y="308.77" width="10.28" height="6.21" fill="#a6cde4"/>
<rect x="107.87" y="308.77" width="9.93" height="6.21" fill="#d7e7f5"/>
<rect x="88.00" y="314.64" width="10.28" height="5.86" fill="#3b8bc3"/>
<rect x="97.93" y="314.64" width="10.28" height="5.86" fill="#94c4df"/>
<rect x="107.87" y="314.64" width="9.93" height="5.86" fill="#e7f1fa"/>
<rect x="88.00" y="109.40" width="29.80" height="211.10" fill="none" stroke="#666" stroke-width="0.45"/>
<rect x="125.20" y="109.40" width="10.28" height="6.21" fill="#3b8bc3"/>
<rect x="135.13" y="109.40" width="10.28" height="6.21" fill="#a3cce3"/>
<rect x="145.07" y="109.40" width="9.93" height="6.21" fill="#d5e5f4"/>
<rect x="125.20" y="115.26" width="10.28" height="6.21" fill="#3b8bc3"/>
<rect x="135.13" y="115.26" width="10.28" height="6.21" fill="#a3cce3"/>
<rect x="145.07" y="115.26" width="9.93" height="6.21" fill="#d5e5f4"/>
<rect x="125.20" y="121.13" width="10.28" height="6.21" fill="#3b8bc3"/>
<rect x="135.13" y="121.13" width="10.28" height="6.21" fill="#73b2d8"/>
<rect x="145.07" y="121.13" width="9.93" height="6.21" fill="#d5e5f4"/>
<rect x="125.20" y="126.99" width="10.28" height="6.21" fill="#3b8bc3"/>
<rect x="135.13" y="126.99" width="10.28" height="6.21" fill="#6baed6"/>
<rect x="145.07" y="126.99" width="9.93" height="6.21" fill="#d5e5f4"/>
<rect x="125.20" y="132.86" width="10.28" height="6.21" fill="#3b8bc3"/>
<rect x="135.13" y="132.86" width="10.28" height="6.21" fill="#5ba3d0"/>
<rect x="145.07" y="132.86" width="9.93" height="6.21" fill="#c6dbef"/>
<rect x="125.20" y="138.72" width="10.28" height="6.21" fill="#3b8bc3"/>
<rect x="135.13" y="138.72" width="10.28" height="6.21" fill="#7bb7da"/>
<rect x="145.07" y="138.72" width="9.93" height="6.21" fill="#d5e5f4"/>
<rect x="125.20" y="144.58" width="10.28" height="6.21" fill="#3b8bc3"/>
<rect x="135.13" y="144.58" width="10.28" height="6.21" fill="#7bb7da"/>
<rect x="145.07" y="144.58" width="9.93" height="6.21" fill="#d5e5f4"/>
<rect x="125.20" y="150.45" width="10.28" height="6.21" fill="#3b8bc3"/>
<rect x="135.13" y="150.45" width="10.28" height="6.21" fill="#7bb7da"/>
<rect x="145.07" y="150.45" width="9.93" height="6.21" fill="#d5e5f4"/>
<rect x="125.20" y="156.31" width="10.28" height="6.21" fill="#3b8bc3"/>
<rect x="135.13" y="156.31" width="10.28" height="6.21" fill="#7bb7da"/>
<rect x="145.07" y="156.31" width="9.93" height="6.21" fill="#d5e5f4"/>
<rect x="125.20" y="162.18" width="10.28" height="6.21" fill="#3b8bc3"/>
<rect x="135.13" y="162.18" width="10.28" height="6.21" fill="#5ba3d0"/>
<rect x="145.07" y="162.18" width="9.93" height="6.21" fill="#d3e4f3"/>
<rect x="125.20" y="168.04" width="10.28" height="6.21" fill="#3b8bc3"/>
<rect x="135.13" y="168.04" width="10.28" height="6.21" fill="#6baed6"/>
<rect x="145.07" y="168.04" width="9.93" height="6.21" fill="#d0e1f2"/>
<rect x="125.20" y="173.90" width="10.28" height="6.21" fill="#3b8bc3"/>
<rect x="135.13" y="173.90" width="10.28" height="6.21" fill="#6baed6"/>
<rect x="145.07" y="173.90" width="9.93" height="6.21" fill="#ccdff1"/>
<rect x="125.20" y="179.77" width="10.28" height="6.21" fill="#3b8bc3"/>
<rect x="135.13" y="179.77" width="10.28" height="6.21" fill="#5ba3d0"/>
<rect x="145.07" y="179.77" width="9.93" height="6.21" fill="#ccdff1"/>
<rect x="125.20" y="185.63" width="10.28" height="6.21" fill="#3b8bc3"/>
<rect x="135.13" y="185.63" width="10.28" height="6.21" fill="#4a98c9"/>
<rect x="145.07" y="185.63" width="9.93" height="6.21" fill="#c6dbef"/>
<rect x="125.20" y="191.49" width="10.28" height="6.21" fill="#3b8bc3"/>
<rect x="135.13" y="191.49" width="10.28" height="6.21" fill="#6baed6"/>
<rect x="145.07" y="191.49" width="9.93" height="6.21" fill="#d9e8f5"/>
<rect x="125.20" y="197.36" width="10.28" height="6.21" fill="#3b8bc3"/>
<rect x="135.13" y="197.36" width="10.28" height="6.21" fill="#4493c7"/>
<rect x="145.07" y="197.36" width="9.93" height="6.21" fill="#d5e5f4"/>
<rect x="125.20" y="203.22" width="10.28" height="6.21" fill="#3b8bc3"/>
<rect x="135.13" y="203.22" width="10.28" height="6.21" fill="#4493c7"/>
<rect x="145.07" y="203.22" width="9.93" height="6.21" fill="#d0e1f2"/>
<rect x="125.20" y="209.09" width="10.28" height="6.21" fill="#3b8bc3"/>
<rect x="135.13" y="209.09" width="10.28" height="6.21" fill="#6baed6"/>
<rect x="145.07" y="209.09" width="9.93" height="6.21" fill="#acd0e6"/>
<rect x="125.20" y="214.95" width="10.28" height="6.21" fill="#3b8bc3"/>
<rect x="135.13" y="214.95" width="10.28" height="6.21" fill="#5ba3d0"/>
<rect x="145.07" y="214.95" width="9.93" height="6.21" fill="#c6dbef"/>
<rect x="125.20" y="220.81" width="10.28" height="6.21" fill="#3b8bc3"/>
<rect x="135.13" y="220.81" width="10.28" height="6.21" fill="#6baed6"/>
<rect x="145.07" y="220.81" width="9.93" height="6.21" fill="#c6dbef"/>
<rect x="125.20" y="226.68" width="10.28" height="6.21" fill="#3b8bc3"/>
<rect x="135.13" y="226.68" width="10.28" height="6.21" fill="#6baed6"/>
<rect x="145.07" y="226.68" width="9.93" height="6.21" fill="#acd0e6"/>
<rect x="125.20" y="232.54" width="10.28" height="6.21" fill="#3b8bc3"/>
<rect x="135.13" y="232.54" width="10.28" height="6.21" fill="#5ba3d0"/>
<rect x="145.07" y="232.54" width="9.93" height="6.21" fill="#acd0e6"/>
<rect x="125.20" y="238.41" width="10.28" height="6.21" fill="#3b8bc3"/>
<rect x="135.13" y="238.41" width="10.28" height="6.21" fill="#6baed6"/>
<rect x="145.07" y="238.41" width="9.93" height="6.21" fill="#b6d4e9"/>
<rect x="125.20" y="244.27" width="10.28" height="6.21" fill="#3b8bc3"/>
<rect x="135.13" y="244.27" width="10.28" height="6.21" fill="#7fb9da"/>
<rect x="145.07" y="244.27" width="9.93" height="6.21" fill="#e7f1fa"/>
<rect x="125.20" y="250.13" width="10.28" height="6.21" fill="#3b8bc3"/>
<rect x="135.13" y="250.13" width="10.28" height="6.21" fill="#5ba3d0"/>
<rect x="145.07" y="250.13" width="9.93" height="6.21" fill="#c8dcf0"/>
<rect x="125.20" y="256.00" width="10.28" height="6.21" fill="#3b8bc3"/>
<rect x="135.13" y="256.00" width="10.28" height="6.21" fill="#61a7d2"/>
<rect x="145.07" y="256.00" width="9.93" height="6.21" fill="#ccdff1"/>
<rect x="125.20" y="261.86" width="10.28" height="6.21" fill="#3b8bc3"/>
<rect x="135.13" y="261.86" width="10.28" height="6.21" fill="#5ba3d0"/>
<rect x="145.07" y="261.86" width="9.93" height="6.21" fill="#d5e5f4"/>
<rect x="125.20" y="267.73" width="10.28" height="6.21" fill="#3b8bc3"/>
<rect x="135.13" y="267.73" width="10.28" height="6.21" fill="#5ba3d0"/>
<rect x="145.07" y="267.73" width="9.93" height="6.21" fill="#ccdff1"/>
<rect x="125.20" y="273.59" width="10.28" height="6.21" fill="#3b8bc3"/>
<rect x="135.13" y="273.59" width="10.28" height="6.21" fill="#77b5d9"/>
<rect x="145.07" y="273.59" width="9.93" height="6.21" fill="#d0e1f2"/>
<rect x="125.20" y="279.45" width="10.28" height="6.21" fill="#3b8bc3"/>
<rect x="135.13" y="279.45" width="10.28" height="6.21" fill="#61a7d2"/>
<rect x="145.07" y="279.45" width="9.93" height="6.21" fill="#ccdff1"/>
<rect x="125.20" y="285.32" width="10.28" height="6.21" fill="#3b8bc3"/>
<rect x="135.13" y="285.32" width="10.28" height="6.21" fill="#64aad3"/>
<rect x="145.07" y="285.32" width="9.93" height="6.21" fill="#ccdff1"/>
<rect x="125.20" y="291.18" width="10.28" height="6.21" fill="#3b8bc3"/>
<rect x="135.13" y="291.18" width="10.28" height="6.21" fill="#6baed6"/>
<rect x="145.07" y="291.18" width="9.93" height="6.21" fill="#d3e4f3"/>
<rect x="125.20" y="297.04" width="10.28" height="6.21" fill="#3b8bc3"/>
<rect x="135.13" y="297.04" width="10.28" height="6.21" fill="#6baed6"/>
<rect x="145.07" y="297.04" width="9.93" height="6.21" fill="#d3e4f3"/>
<rect x="125.20" y="302.91" width="10.28" height="6.21" fill="#3b8bc3"/>
<rect x="135.13" y="302.91" width="10.28" height="6.21" fill="#6baed6"/>
<rect x="145.07" y="302.91" width="9.93" height="6.21" fill="#d3e4f3"/>
<rect x="125.20" y="308.77" width="10.28" height="6.21" fill="#3b8bc3"/>
<rect x="135.13" y="308.77" width="10.28" height="6.21" fill="#6baed6"/>
<rect x="145.07" y="308.77" width="9.93" height="6.21" fill="#d0e1f2"/>
<rect x="125.20" y="314.64" width="10.28" height="5.86" fill="#3b8bc3"/>
<rect x="135.13" y="314.64" width="10.28" height="5.86" fill="#77b5d9"/>
<rect x="145.07" y="314.64" width="9.93" height="5.86" fill="#ccdff1"/>
<rect x="125.20" y="109.40" width="29.80" height="211.10" fill="none" stroke="#666" stroke-width="0.45"/>
<text font-size="8.2" text-anchor="middle" font-style="italic" textLength="12.5" lengthAdjust="spacingAndGlyphs" transform="translate(28.200000000000003 103.5) rotate(0.03)" fill="#111" >WT</text>
<text font-size="8.2" text-anchor="middle" font-style="italic" textLength="31.5" lengthAdjust="spacingAndGlyphs" transform="translate(66.0 103.5) rotate(0.03)" fill="#111" >lipl-4 Tg</text>
<text font-size="8.2" text-anchor="middle" font-style="italic" textLength="30.5" lengthAdjust="spacingAndGlyphs" transform="translate(103.4 103.5) rotate(0.03)" fill="#111" >daf-2(lf)</text>
<text font-size="8.2" text-anchor="middle" font-style="italic" textLength="32.5" lengthAdjust="spacingAndGlyphs" transform="translate(140.6 103.5) rotate(0.03)" fill="#111" >rsks-1(lf)</text>
<text font-size="12.2" font-weight="bold" textLength="9.09" lengthAdjust="spacingAndGlyphs" transform="translate(-0.9 105.1) rotate(0.03)" fill="#000" >b</text>
<text font-size="8.9" text-anchor="middle" textLength="36.9" lengthAdjust="spacingAndGlyphs" transform="translate(8.4 215.2) rotate(-90)" fill="#111" >Intestine</text>
<text font-size="7.2" textLength="20.6" lengthAdjust="spacingAndGlyphs" transform="translate(21.12 345.3) rotate(-90)" fill="#111" >Young</text>
<text font-size="7.2" textLength="22.4" lengthAdjust="spacingAndGlyphs" transform="translate(31.05 347.1) rotate(-90)" fill="#111" >Middle</text>
<text font-size="7.2" textLength="11.2" lengthAdjust="spacingAndGlyphs" transform="translate(40.98 335.9) rotate(-90)" fill="#111" >Old</text>
<text font-size="7.2" textLength="20.6" lengthAdjust="spacingAndGlyphs" transform="translate(58.42 345.3) rotate(-90)" fill="#111" >Young</text>
<text font-size="7.2" textLength="22.4" lengthAdjust="spacingAndGlyphs" transform="translate(68.35 347.1) rotate(-90)" fill="#111" >Middle</text>
<text font-size="7.2" textLength="11.2" lengthAdjust="spacingAndGlyphs" transform="translate(78.28 335.9) rotate(-90)" fill="#111" >Old</text>
<text font-size="7.2" textLength="20.6" lengthAdjust="spacingAndGlyphs" transform="translate(95.82 345.3) rotate(-90)" fill="#111" >Young</text>
<text font-size="7.2" textLength="22.4" lengthAdjust="spacingAndGlyphs" transform="translate(105.75 347.1) rotate(-90)" fill="#111" >Middle</text>
<text font-size="7.2" textLength="11.2" lengthAdjust="spacingAndGlyphs" transform="translate(115.68 335.9) rotate(-90)" fill="#111" >Old</text>
<text font-size="7.2" textLength="20.6" lengthAdjust="spacingAndGlyphs" transform="translate(133.02 345.3) rotate(-90)" fill="#111" >Young</text>
<text font-size="7.2" textLength="22.4" lengthAdjust="spacingAndGlyphs" transform="translate(142.95 347.1) rotate(-90)" fill="#111" >Middle</text>
<text font-size="7.2" textLength="11.2" lengthAdjust="spacingAndGlyphs" transform="translate(152.88 335.9) rotate(-90)" fill="#111" >Old</text>
<text font-size="5.7" textLength="169.63" lengthAdjust="spacingAndGlyphs" transform="translate(158.7 114.9) rotate(0.03)" fill="#111" >Branched chain amino acid catabolic process (GO:0009083)</text>
<text font-size="5.7" textLength="126.25" lengthAdjust="spacingAndGlyphs" transform="translate(158.7 120.74) rotate(0.03)" fill="#111" >Methionine metabolic process (GO:0006555)</text>
<text font-size="5.7" textLength="172.09" lengthAdjust="spacingAndGlyphs" transform="translate(158.7 126.58) rotate(0.03)" fill="#111" >Very long chain fatty acid biosynthetic process (GO:0042761)</text>
<text font-size="5.7" textLength="165.74" lengthAdjust="spacingAndGlyphs" transform="translate(158.7 132.41) rotate(0.03)" fill="#111" >Very long chain fatty acid metabolic process (GO:0000038)</text>
<text font-size="5.7" textLength="143.88" lengthAdjust="spacingAndGlyphs" transform="translate(158.7 138.25) rotate(0.03)" fill="#111" >Alpha amino acid metabolic process (GO:1901605)</text>
<text font-size="5.7" textLength="158.34" lengthAdjust="spacingAndGlyphs" transform="translate(158.7 144.09) rotate(0.03)" fill="#111" >Fatty acid elongation (saturated fatty acid (GO:0019367)</text>
<text font-size="5.7" textLength="177.04" lengthAdjust="spacingAndGlyphs" transform="translate(158.7 149.93) rotate(0.03)" fill="#111" >Fatty acid elongation (polyunsaturated fatty acid (GO:0034626)</text>
<text font-size="5.7" textLength="165.4" lengthAdjust="spacingAndGlyphs" transform="translate(158.7 155.77) rotate(0.03)" fill="#111" >Fatty acid elongation (unsaturated fatty acid (GO:0019368)</text>
<text font-size="5.7" textLength="181.27" lengthAdjust="spacingAndGlyphs" transform="translate(158.7 161.6) rotate(0.03)" fill="#111" >Fatty acid elongation (monounsaturated fatty acid (GO:0034625)</text>
<text font-size="5.7" textLength="169.63" lengthAdjust="spacingAndGlyphs" transform="translate(158.7 167.44) rotate(0.03)" fill="#111" >Phosphatidylethanolamine metabolic process (GO:0046337)</text>
<text font-size="5.7" textLength="198.89" lengthAdjust="spacingAndGlyphs" transform="translate(158.7 173.28) rotate(0.03)" fill="#111" >Proteolysis involved in cellular protein catabolic process (GO:0051603)</text>
<text font-size="5.7" textLength="129.78" lengthAdjust="spacingAndGlyphs" transform="translate(158.7 179.12) rotate(0.03)" fill="#111" >Sphingolipid metabolic process (GO:0006665)</text>
<text font-size="5.7" textLength="144.93" lengthAdjust="spacingAndGlyphs" transform="translate(158.7 184.96) rotate(0.03)" fill="#111" >Membrane lipid biosynthetic process (GO:0046467)</text>
<text font-size="5.7" textLength="177.04" lengthAdjust="spacingAndGlyphs" transform="translate(158.7 190.79) rotate(0.03)" fill="#111" >Organonitrogen compound biosynthetic process (GO:1901566)</text>
<text font-size="5.7" textLength="100.86" lengthAdjust="spacingAndGlyphs" transform="translate(158.7 196.63) rotate(0.03)" fill="#111" >Fatty acid elongation (GO:0030497)</text>
<text font-size="5.7" textLength="96.98" lengthAdjust="spacingAndGlyphs" transform="translate(158.7 202.47) rotate(0.03)" fill="#111" >Fatty acid oxidation (GO:0019395)</text>
<text font-size="5.7" textLength="111.09" lengthAdjust="spacingAndGlyphs" transform="translate(158.7 208.31) rotate(0.03)" fill="#111" >Fatty acid beta oxidation (GO:0006635)</text>
<text font-size="5.7" textLength="116.73" lengthAdjust="spacingAndGlyphs" transform="translate(158.7 214.15) rotate(0.03)" fill="#111" >Peptide metabolic process (GO:0006518)</text>
<text font-size="5.7" textLength="120.25" lengthAdjust="spacingAndGlyphs" transform="translate(158.7 219.98) rotate(0.03)" fill="#111" >Pyruvate metabolic process (GO:0006090)</text>
<text font-size="5.7" textLength="200.32" lengthAdjust="spacingAndGlyphs" transform="translate(158.7 225.82) rotate(0.03)" fill="#111" >Fatty acid beta oxidation using acyl CoA dehydrogenase (GO:0033539)</text>
<text font-size="5.7" textLength="159.04" lengthAdjust="spacingAndGlyphs" transform="translate(158.7 231.66) rotate(0.03)" fill="#111" >Pyrimidine nucleobase metabolic process (GO:0006206)</text>
<text font-size="5.7" textLength="106.5" lengthAdjust="spacingAndGlyphs" transform="translate(158.7 237.5) rotate(0.03)" fill="#111" >Regulation of transport (GO:0051049)</text>
<text font-size="5.7" textLength="108.61" lengthAdjust="spacingAndGlyphs" transform="translate(158.7 243.34) rotate(0.03)" fill="#111" >NAD metabolic process (GO:0019674)</text>
<text font-size="5.7" textLength="180.92" lengthAdjust="spacingAndGlyphs" transform="translate(158.7 249.17) rotate(0.03)" fill="#111" >Positive regulation of apoptotic signaling pathway (GO:2001235)</text>
<text font-size="5.7" textLength="123.07" lengthAdjust="spacingAndGlyphs" transform="translate(158.7 255.01) rotate(0.03)" fill="#111" >Hexose biosynthetic process (GO:0019319)</text>
<text font-size="5.7" textLength="91.34" lengthAdjust="spacingAndGlyphs" transform="translate(158.7 260.85) rotate(0.03)" fill="#111" >Gluconeogenesis (GO:0006094)</text>
<text font-size="5.7" textLength="129.06" lengthAdjust="spacingAndGlyphs" transform="translate(158.7 266.69) rotate(0.03)" fill="#111" >Fatty acid biosynthetic process (GO:0006633)</text>
<text font-size="5.7" textLength="141.77" lengthAdjust="spacingAndGlyphs" transform="translate(158.7 272.53) rotate(0.03)" fill="#111" >Alpha amino acid catabolic process (GO:1901606)</text>
<text font-size="5.7" textLength="131.54" lengthAdjust="spacingAndGlyphs" transform="translate(158.7 278.36) rotate(0.03)" fill="#111" >Carbohydrate catabolic process (GO:0016052)</text>
<text font-size="5.7" textLength="114.61" lengthAdjust="spacingAndGlyphs" transform="translate(158.7 284.2) rotate(0.03)" fill="#111" >ATP generation from ADP (GO:0006757)</text>
<text font-size="5.7" textLength="93.44" lengthAdjust="spacingAndGlyphs" transform="translate(158.7 290.04) rotate(0.03)" fill="#111" >Glycolytic process (GO:0006096)</text>
<text font-size="5.7" textLength="132.94" lengthAdjust="spacingAndGlyphs" transform="translate(158.7 295.88) rotate(0.03)" fill="#111" >Ascaroside biosynthetic process (GO:1904070)</text>
<text font-size="5.7" textLength="126.59" lengthAdjust="spacingAndGlyphs" transform="translate(158.7 301.72) rotate(0.03)" fill="#111" >Ascaroside metabolic process (GO:1904069)</text>
<text font-size="5.7" textLength="129.42" lengthAdjust="spacingAndGlyphs" transform="translate(158.7 307.55) rotate(0.03)" fill="#111" >Glycoside biosynthetic process (GO:0016138)</text>
<text font-size="5.7" textLength="162.57" lengthAdjust="spacingAndGlyphs" transform="translate(158.7 313.39) rotate(0.03)" fill="#111" >Nicotinamide nucleotide metabolic process (GO:0046496)</text>
<text font-size="5.7" textLength="184.09" lengthAdjust="spacingAndGlyphs" transform="translate(158.7 319.23) rotate(0.03)" fill="#111" >Positive regulation of post embryonic development (GO:0048582)</text>
<text font-size="6.35" text-anchor="end" transform="translate(351.4 337.5) rotate(0.03)" fill="#111" >Normalized enrichment score</text>
<rect x="354.6" y="331.9" width="20.299999999999955" height="7" fill="url(#gb)"/>
<text font-size="5.6" transform="translate(351.6 346.2) rotate(0.03)" fill="#111" >1.2</text>
<text font-size="5.6" transform="translate(370.4 346.2) rotate(0.03)" fill="#111" >0.8</text>
<path d="M458.08 19.48A60.0 60.0 0 0 1 531.86 68.31L525.15 69.38A53.2 53.2 0 0 0 459.73 26.08Z" fill="#99005e" fill-opacity="1.0"/>
<path d="M532.59 76.65A60.0 60.0 0 0 1 459.10 136.16L460.63 129.54A53.2 53.2 0 0 0 525.79 76.77Z" fill="#bdbdbd" fill-opacity="1.0"/>
<path d="M449.16 132.93A60.0 60.0 0 0 1 413.42 67.80L420.13 68.92A53.2 53.2 0 0 0 451.81 126.67Z" fill="#0a5fc4" fill-opacity="1.0"/>
<path d="M415.87 58.17A60.0 60.0 0 0 1 448.20 22.89L450.96 29.10A53.2 53.2 0 0 0 422.30 60.38Z" fill="#c8960c" fill-opacity="1.0"/>
<path d="M459.95 26.95A52.3 52.3 0 0 1 492.19 29.21L489.76 35.23A45.8 45.8 0 0 0 461.52 33.26Z" fill="#ff0000" fill-opacity="0.48"/>
<path d="M492.19 29.21A52.3 52.3 0 0 1 524.26 69.52L517.84 70.54A45.8 45.8 0 0 0 489.76 35.23Z" fill="#0000ff" fill-opacity="0.48"/>
<path d="M524.89 76.79A52.3 52.3 0 0 1 494.70 125.10L491.96 119.21A45.8 45.8 0 0 0 518.39 76.90Z" fill="#ff0000" fill-opacity="0.48"/>
<path d="M494.70 125.10A52.3 52.3 0 0 1 460.84 128.66L462.30 122.33A45.8 45.8 0 0 0 491.96 119.21Z" fill="#0000ff" fill-opacity="0.48"/>
<path d="M452.16 125.84A52.3 52.3 0 0 1 434.35 113.37L439.10 108.94A45.8 45.8 0 0 0 454.70 119.86Z" fill="#ff0000" fill-opacity="0.48"/>
<path d="M434.35 113.37A52.3 52.3 0 0 1 421.02 69.07L427.43 70.14A45.8 45.8 0 0 0 439.10 108.94Z" fill="#0000ff" fill-opacity="0.48"/>
<path d="M423.15 60.67A52.3 52.3 0 0 1 433.73 42.70L438.56 47.05A45.8 45.8 0 0 0 429.30 62.79Z" fill="#ff0000" fill-opacity="0.48"/>
<path d="M433.73 42.70A52.3 52.3 0 0 1 451.33 29.92L453.97 35.86A45.8 45.8 0 0 0 438.56 47.05Z" fill="#0000ff" fill-opacity="0.48"/>
<path d="M439.76 108.32A44.9 44.9 0 0 1 427.81 80.83Q467.60 71.50 489.42 36.07A44.9 44.9 0 0 1 507.98 50.06Q467.60 71.50 439.76 108.32Z" fill="#0000ff" fill-opacity="0.5"/>
<path d="M427.81 80.83A44.9 44.9 0 0 1 428.32 70.29Q471.10 69.80 507.98 50.06A44.9 44.9 0 0 1 516.95 70.68Q490.10 80.50 427.81 80.83Z" fill="#0000ff" fill-opacity="0.36"/>
<path d="M439.23 47.66A44.9 44.9 0 0 1 454.34 36.68Q465.40 81.20 471.03 122.57A44.9 44.9 0 0 1 462.50 121.45Q465.40 81.20 439.23 47.66Z" fill="#0000ff" fill-opacity="0.54"/>
<path d="M433.72 100.15A44.9 44.9 0 0 1 428.14 83.95Q469.60 83.70 491.58 118.39A44.9 44.9 0 0 1 477.29 122.35Q469.60 83.70 433.72 100.15Z" fill="#0000ff" fill-opacity="0.3"/>
<path d="M461.74 34.13A44.9 44.9 0 0 1 489.42 36.07Q465.00 75.40 455.06 119.03A44.9 44.9 0 0 1 445.58 113.56Q465.00 75.40 461.74 34.13Z" fill="#ff0000" fill-opacity="0.54"/>
<path d="M430.15 63.08A44.9 44.9 0 0 1 439.23 47.66Q474.90 70.00 517.49 76.92A44.9 44.9 0 0 1 516.82 85.50Q453.60 71.70 430.15 63.08Z" fill="#ff0000" fill-opacity="0.54"/>
<path d="M516.82 85.50A44.9 44.9 0 0 1 507.98 105.34Q472.60 77.70 507.98 105.34A44.9 44.9 0 0 1 491.58 118.39Q453.60 71.70 516.82 85.50Z" fill="#ff0000" fill-opacity="0.56"/>
<path d="M495.05 38.82A44.9 44.9 0 0 1 504.35 45.95Q472.60 77.70 475.73 122.49A44.9 44.9 0 0 1 472.60 122.60Q472.60 77.70 495.05 38.82Z" fill="#0000ff" fill-opacity="0.18"/>
<path id="n0" d="M428.22 34.84A61.7 61.7 0 0 1 523.75 112.20" fill="none"/>
<text font-size="8.5" font-style="italic" fill="#111" text-anchor="middle" textLength="33.8" lengthAdjust="spacingAndGlyphs"><textPath href="#n0" startOffset="50%">rsks-1(lf)</textPath></text>
<path id="n1" d="M523.75 43.20A61.7 61.7 0 0 1 428.22 120.56" fill="none"/>
<text font-size="8.5" font-style="italic" fill="#111" text-anchor="middle" textLength="13" lengthAdjust="spacingAndGlyphs"><textPath href="#n1" startOffset="50%">WT</textPath></text>
<path id="n2" d="M502.51 131.66A61.7 61.7 0 0 1 433.77 29.75" fill="none"/>
<text font-size="8.5" font-style="italic" fill="#111" text-anchor="middle" textLength="32.8" lengthAdjust="spacingAndGlyphs"><textPath href="#n2" startOffset="50%">lipl-4 Tg</textPath></text>
<path id="n3" d="M427.48 119.78A61.7 61.7 0 0 1 509.73 28.42" fill="none"/>
<text font-size="8.5" font-style="italic" fill="#111" text-anchor="middle" textLength="31.8" lengthAdjust="spacingAndGlyphs"><textPath href="#n3" startOffset="50%">daf-2(lf)</textPath></text>
<text font-size="8.9" text-anchor="middle" textLength="32.3" lengthAdjust="spacingAndGlyphs" transform="translate(473.6 9.7) rotate(0.03)" fill="#111" >Neuron</text>
<text font-size="10.9" font-weight="bold" textLength="7.76" lengthAdjust="spacingAndGlyphs" transform="translate(405.7 10.2) rotate(0.03)" fill="#000" >c</text>
<path d="M632.73 21.17A60.0 60.0 0 0 1 672.29 67.48L665.59 68.66A53.2 53.2 0 0 0 630.52 27.60Z" fill="#99005e" fill-opacity="1.0"/>
<path d="M673.20 77.90A60.0 60.0 0 0 1 642.29 130.38L638.99 124.43A53.2 53.2 0 0 0 666.40 77.90Z" fill="#bdbdbd" fill-opacity="1.0"/>
<path d="M632.73 134.63A60.0 60.0 0 0 1 556.82 98.42L563.21 96.10A53.2 53.2 0 0 0 630.52 128.20Z" fill="#0a5fc4" fill-opacity="1.0"/>
<path d="M554.11 88.32A60.0 60.0 0 0 1 623.62 18.81L622.44 25.51A53.2 53.2 0 0 0 560.81 87.14Z" fill="#c8960c" fill-opacity="1.0"/>
<path d="M630.23 28.45A52.3 52.3 0 0 1 633.64 29.76L631.10 35.74A45.8 45.8 0 0 0 628.11 34.60Z" fill="#ff0000" fill-opacity="0.48"/>
<path d="M633.64 29.76A52.3 52.3 0 0 1 664.71 68.82L658.30 69.95A45.8 45.8 0 0 0 631.10 35.74Z" fill="#0000ff" fill-opacity="0.48"/>
<path d="M665.50 77.90A52.3 52.3 0 0 1 659.80 101.64L654.01 98.69A45.8 45.8 0 0 0 659.00 77.90Z" fill="#ff0000" fill-opacity="0.48"/>
<path d="M659.80 101.64A52.3 52.3 0 0 1 638.56 123.64L635.40 117.96A45.8 45.8 0 0 0 654.01 98.69Z" fill="#0000ff" fill-opacity="0.48"/>
<path d="M630.23 127.35A52.3 52.3 0 0 1 588.65 124.08L591.70 118.34A45.8 45.8 0 0 0 628.11 121.20Z" fill="#ff0000" fill-opacity="0.48"/>
<path d="M588.65 124.08A52.3 52.3 0 0 1 564.05 95.79L570.16 93.56A45.8 45.8 0 0 0 591.70 118.34Z" fill="#0000ff" fill-opacity="0.48"/>
<path d="M561.69 86.98A52.3 52.3 0 0 1 564.05 60.01L570.16 62.24A45.8 45.8 0 0 0 568.10 85.85Z" fill="#ff0000" fill-opacity="0.48"/>
<path d="M564.05 60.01A52.3 52.3 0 0 1 622.28 26.39L621.15 32.80A45.8 45.8 0 0 0 570.16 62.24Z" fill="#0000ff" fill-opacity="0.48"/>
<path d="M571.01 62.54A44.9 44.9 0 0 1 621.00 33.68Q624.20 79.90 592.12 117.54A44.9 44.9 0 0 1 571.01 93.26Q633.20 80.90 571.01 62.54Z" fill="#0000ff" fill-opacity="0.58"/>
<path d="M569.36 87.62A44.9 44.9 0 0 1 571.42 61.44Q594.00 75.00 620.00 88.00Q594.00 89.50 569.36 87.62Z" fill="#ffffff" fill-opacity="1"/>
<path d="M568.98 85.70A44.9 44.9 0 0 1 570.26 64.77Q592.50 75.20 617.00 87.00Q592.00 87.20 568.98 85.70Z" fill="#c06a58" fill-opacity="0.6"/>
<path d="M628.56 120.09A44.9 44.9 0 0 1 591.23 117.06Q597.50 92.00 615.00 82.50Q628.50 99.00 628.56 120.09Z" fill="#ffffff" fill-opacity="1"/>
<path d="M627.82 120.35A44.9 44.9 0 0 1 592.12 117.54Q599.00 93.00 615.00 85.00Q627.00 99.00 627.82 120.35Z" fill="#c06a58" fill-opacity="0.6"/>
<path d="M658.10 77.90A44.9 44.9 0 0 1 653.21 98.28Q640.00 90.00 628.00 83.00Q645.00 74.50 658.10 77.90Z" fill="#ff0000" fill-opacity="0.52"/>
<path d="M658.04 80.25A44.9 44.9 0 0 1 657.42 85.70Q613.20 77.90 568.98 70.10A44.9 44.9 0 0 1 570.26 64.77Q613.20 77.90 658.04 80.25Z" fill="#ff0000" fill-opacity="0.15"/>
<path d="M627.82 120.35A44.9 44.9 0 0 1 625.58 121.06Q613.20 77.90 628.19 35.58A44.9 44.9 0 0 1 628.92 35.84Q613.20 77.90 627.82 120.35Z" fill="#c06a58" fill-opacity="0.35"/>
<path d="M652.84 56.82A44.9 44.9 0 0 1 656.14 64.77Q613.20 77.90 568.33 79.47A44.9 44.9 0 0 1 568.30 77.90Q613.20 77.90 652.84 56.82Z" fill="#30e09a" fill-opacity="0.32"/>
<path d="M630.74 36.57A44.9 44.9 0 0 1 652.84 56.82Q634.00 73.00 624.00 93.00Q611.00 64.00 630.74 36.57Z" fill="#0000ff" fill-opacity="0.52"/>
<path d="M656.14 64.77A44.9 44.9 0 0 1 657.42 70.10Q613.20 77.90 570.26 64.77A44.9 44.9 0 0 1 571.01 62.54Q613.20 77.90 656.14 64.77Z" fill="#0000ff" fill-opacity="0.3"/>
<path d="M652.84 98.98A44.9 44.9 0 0 1 651.89 100.69Q613.20 77.90 618.28 33.29A44.9 44.9 0 0 1 618.67 33.33Q613.20 77.90 652.84 98.98Z" fill="#0000ff" fill-opacity="0.34"/>
<path d="M650.86 102.35A44.9 44.9 0 0 1 649.75 103.97Q613.20 77.90 618.67 33.33A44.9 44.9 0 0 1 619.06 33.38Q613.20 77.90 650.86 102.35Z" fill="#0000ff" fill-opacity="0.34"/>
<path d="M648.58 105.54A44.9 44.9 0 0 1 647.34 107.06Q613.20 77.90 619.06 33.38A44.9 44.9 0 0 1 619.45 33.44Q613.20 77.90 648.58 105.54Z" fill="#0000ff" fill-opacity="0.34"/>
<path d="M646.04 108.52A44.9 44.9 0 0 1 644.67 109.92Q613.20 77.90 619.45 33.44A44.9 44.9 0 0 1 619.84 33.49Q613.20 77.90 646.04 108.52Z" fill="#0000ff" fill-opacity="0.34"/>
<path d="M643.24 111.27A44.9 44.9 0 0 1 641.76 112.55Q613.20 77.90 619.84 33.49A44.9 44.9 0 0 1 620.22 33.55Q613.20 77.90 643.24 111.27Z" fill="#0000ff" fill-opacity="0.34"/>
<path d="M640.22 113.76A44.9 44.9 0 0 1 638.63 114.90Q613.20 77.90 620.22 33.55A44.9 44.9 0 0 1 620.61 33.62Q613.20 77.90 640.22 113.76Z" fill="#0000ff" fill-opacity="0.34"/>
<path d="M637.32 115.77A44.9 44.9 0 0 1 635.31 116.98Q613.20 77.90 620.61 33.62A44.9 44.9 0 0 1 621.00 33.68Q613.20 77.90 637.32 115.77Z" fill="#0000ff" fill-opacity="0.34"/>
<path d="M644.39 110.20A44.9 44.9 0 0 1 634.97 117.17Q613.20 77.90 620.22 33.55A44.9 44.9 0 0 1 621.00 33.68Q613.20 77.90 644.39 110.20Z" fill="#0000ff" fill-opacity="0.22"/>
<path id="i0" d="M576.93 27.98A61.7 61.7 0 0 1 657.58 120.76" fill="none"/>
<text font-size="8.5" font-style="italic" fill="#111" text-anchor="middle" textLength="33.8" lengthAdjust="spacingAndGlyphs"><textPath href="#i0" startOffset="50%">rsks-1(lf)</textPath></text>
<path id="i1" d="M648.15 27.05A61.7 61.7 0 0 1 587.61 134.04" fill="none"/>
<text font-size="8.5" font-style="italic" fill="#111" text-anchor="middle" textLength="13" lengthAdjust="spacingAndGlyphs"><textPath href="#i1" startOffset="50%">WT</textPath></text>
<path id="i2" d="M666.09 109.68A61.7 61.7 0 0 1 555.60 55.79" fill="none"/>
<text font-size="8.5" font-style="italic" fill="#111" text-anchor="middle" textLength="32.8" lengthAdjust="spacingAndGlyphs"><textPath href="#i2" startOffset="50%">lipl-4 Tg</textPath></text>
<path id="i3" d="M562.05 112.40A61.7 61.7 0 0 1 657.58 35.04" fill="none"/>
<text font-size="8.5" font-style="italic" fill="#111" text-anchor="middle" textLength="31.8" lengthAdjust="spacingAndGlyphs"><textPath href="#i3" startOffset="50%">daf-2(lf)</textPath></text>
<text font-size="8.9" text-anchor="middle" textLength="36.9" lengthAdjust="spacingAndGlyphs" transform="translate(616.8 9.7) rotate(0.03)" fill="#111" >Intestine</text>
<rect x="528.70" y="161.60" width="16.51" height="13.85" fill="#4a2cf5"/>
<rect x="545.16" y="161.60" width="16.51" height="13.85" fill="#f9a28a"/>
<rect x="561.62" y="161.60" width="16.51" height="13.85" fill="#f6dcd6"/>
<rect x="578.09" y="161.60" width="16.51" height="13.85" fill="#ebe6f2"/>
<rect x="594.55" y="161.60" width="16.51" height="13.85" fill="#f9a58e"/>
<rect x="611.01" y="161.60" width="16.51" height="13.85" fill="#e8e5f3"/>
<rect x="627.48" y="161.60" width="16.51" height="13.85" fill="#f7d9d0"/>
<rect x="643.94" y="161.60" width="16.51" height="13.85" fill="#f8cfc4"/>
<rect x="528.70" y="175.40" width="16.51" height="13.95" fill="#1a0cf8"/>
<rect x="545.16" y="175.40" width="16.51" height="13.95" fill="#f86a4a"/>
<rect x="561.62" y="175.40" width="16.51" height="13.95" fill="#f9b6a2"/>
<rect x="578.09" y="175.40" width="16.51" height="13.95" fill="#f9c5b5"/>
<rect x="594.55" y="175.40" width="16.51" height="13.95" fill="#f87a5c"/>
<rect x="611.01" y="175.40" width="16.51" height="13.95" fill="#f9bba8"/>
<rect x="627.48" y="175.40" width="16.51" height="13.95" fill="#f98f74"/>
<rect x="643.94" y="175.40" width="16.51" height="13.95" fill="#f9bca9"/>
<rect x="528.70" y="189.30" width="16.51" height="13.85" fill="#cbbdf3"/>
<rect x="545.16" y="189.30" width="16.51" height="13.85" fill="#f8dcd3"/>
<rect x="561.62" y="189.30" width="16.51" height="13.85" fill="#ddd6f5"/>
<rect x="578.09" y="189.30" width="16.51" height="13.85" fill="#bcaaf3"/>
<rect x="594.55" y="189.30" width="16.51" height="13.85" fill="#f9a58e"/>
<rect x="611.01" y="189.30" width="16.51" height="13.85" fill="#e1dcf4"/>
<rect x="627.48" y="189.30" width="16.51" height="13.85" fill="#efecef"/>
<rect x="643.94" y="189.30" width="16.51" height="13.85" fill="#ebe6f0"/>
<rect x="528.70" y="203.10" width="16.51" height="13.95" fill="#5a3cf3"/>
<rect x="545.16" y="203.10" width="16.51" height="13.95" fill="#f9b09a"/>
<rect x="561.62" y="203.10" width="16.51" height="13.95" fill="#e8e4f3"/>
<rect x="578.09" y="203.10" width="16.51" height="13.95" fill="#efeeef"/>
<rect x="594.55" y="203.10" width="16.51" height="13.95" fill="#f9a58e"/>
<rect x="611.01" y="203.10" width="16.51" height="13.95" fill="#c3b0f2"/>
<rect x="627.48" y="203.10" width="16.51" height="13.95" fill="#f9cabb"/>
<rect x="643.94" y="203.10" width="16.51" height="13.95" fill="#efeeef"/>
<rect x="528.70" y="220.6" width="16.51" height="5.5" fill="#40e0d0"/>
<rect x="545.16" y="220.6" width="16.51" height="5.5" fill="#ffff00"/>
<rect x="561.62" y="220.6" width="16.51" height="5.5" fill="#00ff00"/>
<rect x="578.09" y="220.6" width="16.51" height="5.5" fill="#000000"/>
<rect x="594.55" y="220.6" width="16.51" height="5.5" fill="#ff00ff"/>
<rect x="611.01" y="220.6" width="16.51" height="5.5" fill="#0000ff"/>
<rect x="627.48" y="220.6" width="16.51" height="5.5" fill="#ffc0cb"/>
<rect x="643.94" y="220.6" width="16.51" height="5.5" fill="#ff0000"/>
<text font-size="8.2" font-style="italic" textLength="32.8" lengthAdjust="spacingAndGlyphs" transform="translate(492.1 169.7) rotate(0.03)" fill="#111" >rsks-1(lf)</text>
<text font-size="8.2" font-style="italic" textLength="31.2" lengthAdjust="spacingAndGlyphs" transform="translate(493.7 184.5) rotate(0.03)" fill="#111" >daf-2(lf)</text>
<text font-size="8.2" font-style="italic" textLength="31.8" lengthAdjust="spacingAndGlyphs" transform="translate(493.1 198.9) rotate(0.03)" fill="#111" >lipl-4 Tg</text>
<text font-size="8.2" font-style="italic" textLength="12.5" lengthAdjust="spacingAndGlyphs" transform="translate(512.4 213.4) rotate(0.03)" fill="#111" >WT</text>
<text font-size="9.2" textLength="37.2" lengthAdjust="spacingAndGlyphs" transform="translate(446.6 192.2) rotate(0.03)" fill="#111" >Intestine</text>
<text font-size="12.2" font-weight="bold" textLength="9.09" lengthAdjust="spacingAndGlyphs" transform="translate(428.5 166.0) rotate(0.03)" fill="#000" >d</text>
<rect x="666.0" y="171.6" width="5.6" height="23.2" fill="url(#gr)"/>
<text x="666.6" y="167.9" font-size="6.6" font-style="italic" fill="#111">R<tspan font-size="4.2" dy="-3.0" dx="0.3" font-style="normal">2</tspan></text>
<text font-size="6.1" transform="translate(674.2 174.0) rotate(0.03)" fill="#111" >1</text>
<text font-size="6.1" transform="translate(674.2 185.7) rotate(0.03)" fill="#111" >0</text>
<text font-size="6.1" transform="translate(673.9 195.8) rotate(0.03)" fill="#111" >−1</text>
<g fill="none" stroke="#111" stroke-width="0.65" stroke-dasharray="3.3 2.2">
<path d="M432.8 240.4H684.4V343H432.8Z"/>
<path d="M528.7 226.3L432.8 240.4"/>
<path d="M545.2 226.3L684.4 240.4"/>
</g>
<rect x="602.8" y="243.7" width="77.5" height="79.5" fill="#fff" stroke="#777" stroke-width="0.55"/>
<rect x="605.2" y="245.30" width="72.14" height="8.7" fill="#ff0000"/>
<text font-size="7.1" text-anchor="end" textLength="34.97" lengthAdjust="spacingAndGlyphs" transform="translate(596.2 252.15) rotate(0.03)" fill="#111" >Ribosome</text>
<path d="M602.8 249.65h-1.5" stroke="#333" stroke-width="0.5"/>
<rect x="605.2" y="254.92" width="46.70" height="8.7" fill="#ff0000"/>
<text font-size="7.1" text-anchor="end" textLength="89.38" lengthAdjust="spacingAndGlyphs" transform="translate(596.2 261.77) rotate(0.03)" fill="#111" >Oxidative phosphorylation</text>
<path d="M602.8 259.27h-1.5" stroke="#333" stroke-width="0.5"/>
<rect x="605.2" y="264.54" width="20.18" height="8.7" fill="#f5061c"/>
<text font-size="7.1" text-anchor="end" textLength="41.88" lengthAdjust="spacingAndGlyphs" transform="translate(596.2 271.39) rotate(0.03)" fill="#111" >Proteasome</text>
<path d="M602.8 268.89h-1.5" stroke="#333" stroke-width="0.5"/>
<rect x="605.2" y="274.16" width="39.61" height="8.7" fill="#ff0000"/>
<text font-size="7.1" text-anchor="end" textLength="151.97" lengthAdjust="spacingAndGlyphs" transform="translate(596.2 281.01) rotate(0.03)" fill="#111" >Protein processing in endoplasmic reticulum</text>
<path d="M602.8 278.51h-1.5" stroke="#333" stroke-width="0.5"/>
<rect x="605.2" y="283.78" width="33.78" height="8.7" fill="#ff0000"/>
<text font-size="7.1" text-anchor="end" textLength="44.47" lengthAdjust="spacingAndGlyphs" transform="translate(596.2 290.63) rotate(0.03)" fill="#111" >Spliceosome</text>
<path d="M602.8 288.13h-1.5" stroke="#333" stroke-width="0.5"/>
<rect x="605.2" y="293.40" width="20.18" height="8.7" fill="#ee0a2a"/>
<text font-size="7.1" text-anchor="end" textLength="41.46" lengthAdjust="spacingAndGlyphs" transform="translate(596.2 300.25) rotate(0.03)" fill="#111" >Phagosome</text>
<path d="M602.8 297.75h-1.5" stroke="#333" stroke-width="0.5"/>
<rect x="605.2" y="303.02" width="12.51" height="8.7" fill="#9a14b4"/>
<text font-size="7.1" text-anchor="end" textLength="85.03" lengthAdjust="spacingAndGlyphs" transform="translate(596.2 309.87) rotate(0.03)" fill="#111" >Citrate cycle (TCA cycle)</text>
<path d="M602.8 307.37h-1.5" stroke="#333" stroke-width="0.5"/>
<rect x="605.2" y="312.64" width="27.19" height="8.7" fill="#1414ff"/>
<text font-size="7.1" text-anchor="end" textLength="67.35" lengthAdjust="spacingAndGlyphs" transform="translate(596.2 319.49) rotate(0.03)" fill="#111" >Carbon metabolism</text>
<path d="M602.8 316.99h-1.5" stroke="#333" stroke-width="0.5"/>
<path d="M605.20 323.2v1.5" stroke="#333" stroke-width="0.5"/>
<text font-size="5.9" text-anchor="middle" textLength="3.48" lengthAdjust="spacingAndGlyphs" transform="translate(605.6 331.5) rotate(0.03)" fill="#111" >0</text>
<path d="M626.05 323.2v1.5" stroke="#333" stroke-width="0.5"/>
<text font-size="5.9" text-anchor="middle" textLength="6.96" lengthAdjust="spacingAndGlyphs" transform="translate(626.45 331.5) rotate(0.03)" fill="#111" >25</text>
<path d="M646.90 323.2v1.5" stroke="#333" stroke-width="0.5"/>
<text font-size="5.9" text-anchor="middle" textLength="6.96" lengthAdjust="spacingAndGlyphs" transform="translate(647.3 331.5) rotate(0.03)" fill="#111" >50</text>
<path d="M667.75 323.2v1.5" stroke="#333" stroke-width="0.5"/>
<text font-size="5.9" text-anchor="middle" textLength="6.96" lengthAdjust="spacingAndGlyphs" transform="translate(668.15 331.5) rotate(0.03)" fill="#111" >75</text>
<text font-size="7.1" text-anchor="middle" textLength="39.6" lengthAdjust="spacingAndGlyphs" transform="translate(641.1 341.2) rotate(0.03)" fill="#111" >Gene count</text>
<text x="630.7" y="298.8" font-size="5.9" fill="#111" textLength="46.6" lengthAdjust="spacingAndGlyphs">Adjusted <tspan font-style="italic">P</tspan> value</text>
<rect x="637.5" y="301.5" width="3.4" height="18.5" fill="url(#gp)"/>
<text font-size="5.9" textLength="21.2" lengthAdjust="spacingAndGlyphs" transform="translate(643.7 308.2) rotate(0.03)" fill="#111" >0.0003</text>
<text font-size="5.9" textLength="21.2" lengthAdjust="spacingAndGlyphs" transform="translate(643.7 317.5) rotate(0.03)" fill="#111" >0.0009</text>
</svg>
</body></html>
